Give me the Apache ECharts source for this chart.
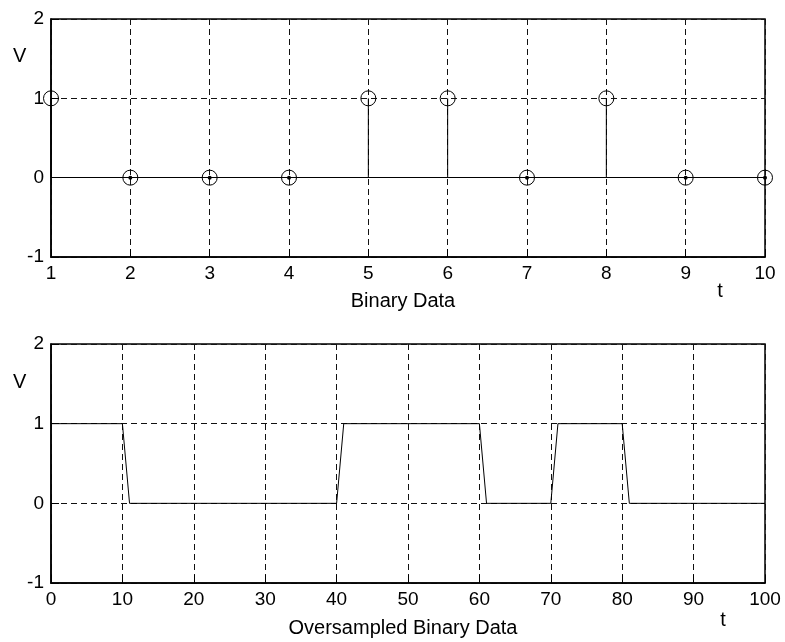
<!DOCTYPE html>
<html>
<head>
<meta charset="utf-8">
<script src="https://cdn.jsdelivr.net/npm/echarts@6/dist/echarts.min.js"></script>
<style>
  html, body { margin: 0; padding: 0; background: #fff; }
  #main { width: 785px; height: 642px; }
</style>
</head>
<body>
<div id="main"></div>
<script>
// binary data (top plot)
var bitTimes = [1, 2, 3, 4, 5, 6, 7, 8, 9, 10];
var bitValues = [1, 0, 0, 0, 1, 1, 0, 1, 0, 0];

// oversampled binary data (bottom plot), corner points of the trace
var overT = [0, 10, 11, 40, 41, 60, 61, 70, 71, 80, 81, 100];
var overV = [1, 1, 0, 0, 1, 1, 0, 0, 1, 1, 0, 0];

var yTicks = [-1, 0, 1, 2];

var font = 'Liberation Sans, Arial, sans-serif';
var dash = { color: '#111', type: [6, 4], width: 1 };

function xAx(idx, min, max, step) {
    return {
        type: 'value', gridIndex: idx, min: min, max: max, interval: step,
        axisLine: { show: true, onZero: false, lineStyle: { color: '#000', width: 1.5 } },
        axisTick: { show: true, inside: true, length: 8, lineStyle: { color: '#000' } },
        axisLabel: { color: '#000', fontSize: 19, fontFamily: font, margin: 7 },
        splitLine: { show: true, lineStyle: dash }
    };
}
function yAx(idx) {
    return {
        type: 'value', gridIndex: idx,
        min: yTicks[0], max: yTicks[yTicks.length - 1], interval: 1,
        axisLine: { show: true, onZero: false, lineStyle: { color: '#000', width: 1.5 } },
        axisTick: { show: true, inside: true, length: 8, lineStyle: { color: '#000' } },
        axisLabel: { color: '#000', fontSize: 19, fontFamily: font, margin: 7 },
        splitLine: { show: true, lineStyle: dash }
    };
}

var myChart = echarts.init(document.getElementById('main'));
var option = {
    backgroundColor: '#fff',
    animation: false,
    grid: [
        { left: 51, right: 20, top: 19, height: 238, show: true, borderColor: '#000', borderWidth: 1.5, backgroundColor: 'transparent' },
        { left: 51, right: 20, top: 344, height: 239, show: true, borderColor: '#000', borderWidth: 1.5, backgroundColor: 'transparent' }
    ],
    xAxis: [xAx(0, 1, 10, 1), xAx(1, 0, 100, 10)],
    yAxis: [yAx(0), yAx(1)],
    graphic: [
        { type: 'text', left: 13, top: 46, style: { text: 'V', fontSize: 20, fontFamily: font, fill: '#000' } },
        { type: 'text', left: 13, top: 372, style: { text: 'V', fontSize: 20, fontFamily: font, fill: '#000' } },
        { type: 'text', x: 720, y: 291, style: { text: 't', fontSize: 20, fontFamily: font, fill: '#000', align: 'center', verticalAlign: 'middle' } },
        { type: 'text', x: 723, y: 620, style: { text: 't', fontSize: 20, fontFamily: font, fill: '#000', align: 'center', verticalAlign: 'middle' } },
        { type: 'text', x: 403, y: 301, style: { text: 'Binary Data', fontSize: 20, fontFamily: font, fill: '#000', align: 'center', verticalAlign: 'middle' } },
        { type: 'text', x: 403, y: 628, style: { text: 'Oversampled Binary Data', fontSize: 20, fontFamily: font, fill: '#000', align: 'center', verticalAlign: 'middle' } }
    ],
    series: [
        {
            // stem plot
            type: 'custom',
            xAxisIndex: 0, yAxisIndex: 0,
            data: bitTimes.map(function (t, i) { return [t, bitValues[i]]; }),
            renderItem: function (params, api) {
                var x = api.value(0), y = api.value(1);
                var p0 = api.coord([x, 0]);
                var p1 = api.coord([x, y]);
                var kids = [
                    { type: 'line', shape: { x1: p0[0], y1: p0[1], x2: p1[0], y2: p1[1] }, style: { stroke: '#000', lineWidth: 1 } },
                    { type: 'circle', shape: { cx: p1[0], cy: p1[1], r: 7.5 }, style: { stroke: '#000', fill: 'none', lineWidth: 1 } }
                ];
                if (y === 0) {
                    kids.push({ type: 'circle', shape: { cx: p1[0], cy: p1[1], r: 2 }, style: { fill: '#000' } });
                }
                return { type: 'group', children: kids };
            },
            markLine: {
                silent: true, symbol: 'none', label: { show: false },
                lineStyle: { color: '#000', type: 'solid', width: 1 },
                data: [{ yAxis: 0 }]
            },
            z: 5
        },
        {
            type: 'line',
            xAxisIndex: 1, yAxisIndex: 1,
            data: overT.map(function (t, i) { return [t, overV[i]]; }),
            showSymbol: false,
            lineStyle: { color: '#000', width: 1 },
            itemStyle: { color: '#000' },
            z: 5
        }
    ]
};
myChart.setOption(option);
</script>
</body>
</html>
